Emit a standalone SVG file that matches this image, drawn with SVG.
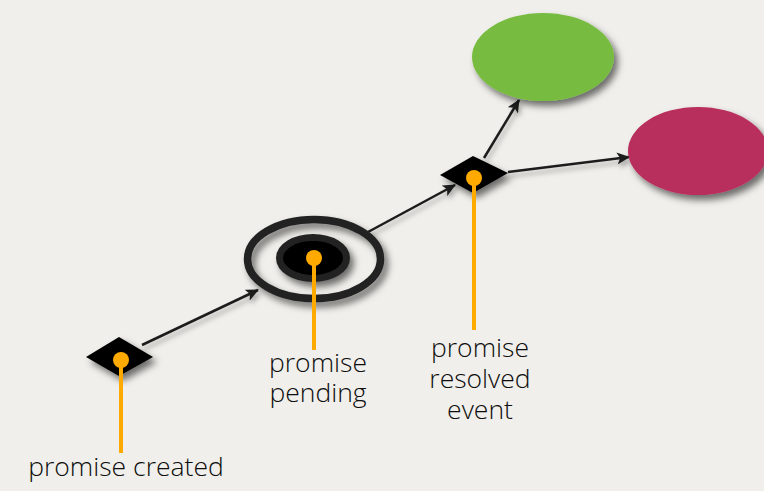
<svg xmlns="http://www.w3.org/2000/svg" width="764" height="491" viewBox="0 0 764 491">
<defs>
<filter id="sh" x="-30%" y="-30%" width="160%" height="160%">
<feDropShadow dx="4" dy="5" stdDeviation="3.5" flood-color="#000" flood-opacity="0.55"/>
</filter>
<filter id="lsh" x="-10%" y="-50%" width="120%" height="200%">
<feDropShadow dx="2" dy="4" stdDeviation="2.5" flood-color="#000" flood-opacity="0.3"/>
</filter>
<marker id="ah" markerWidth="13" markerHeight="12" refX="12" refY="6" orient="auto" markerUnits="userSpaceOnUse" viewBox="0 0 13 12">
<path d="M0,0 L13,6 L0,12 L3,6 Z" fill="#1e1e1e"/>
</marker>
<style>
.lbl{font-family:"Open Sans","Liberation Sans",sans-serif;font-weight:300;font-size:26.5px;fill:#0d0d0d;text-anchor:middle}
.conn{stroke:#1e1e1e;stroke-width:2.5;fill:none;marker-end:url(#ah)}
.pin{stroke:#ffaa00;stroke-width:4;fill:none}
.dot{fill:#ffaa00}
</style>
</defs>
<rect width="764" height="491" fill="#f0efeb"/>
<g id="connectors" filter="url(#lsh)">
<line class="conn" x1="142" y1="345" x2="258" y2="290"/>
<line class="conn" x1="368" y1="232" x2="455" y2="185"/>
<line class="conn" x1="484" y1="158" x2="519" y2="100"/>
<line class="conn" x1="508" y1="172" x2="629" y2="157"/>
</g>
<g id="resolved">
<ellipse cx="543" cy="57" rx="71" ry="44" fill="#77bc41" filter="url(#sh)"/>
</g>
<g id="rejected">
<ellipse cx="698" cy="151" rx="70" ry="44" fill="#b82e5d" filter="url(#sh)"/>
</g>
<g id="created">
<polygon points="86,357 119,337 153,357 119,376" fill="#000" filter="url(#sh)"/>
<line class="pin" x1="121" y1="360" x2="121" y2="453"/>
<circle class="dot" cx="121" cy="360" r="8"/>
<text class="lbl" x="126" y="476">promise created</text>
</g>
<g id="pending">
<g filter="url(#sh)">
<ellipse cx="314" cy="259" rx="66.5" ry="39.5" fill="none" stroke="#222" stroke-width="7.5"/>
<ellipse cx="313" cy="258" rx="33.5" ry="20.5" fill="#000" stroke="#222" stroke-width="7"/>
</g>
<line class="pin" x1="314" y1="258" x2="314" y2="350"/>
<circle class="dot" cx="314" cy="258" r="8"/>
<text class="lbl" x="318" y="372">promise</text>
<text class="lbl" x="318" y="402">pending</text>
</g>
<g id="event">
<polygon points="440,175 473,156 508,173 473,193" fill="#000" filter="url(#sh)"/>
<line class="pin" x1="474" y1="178" x2="474" y2="330"/>
<circle class="dot" cx="474" cy="178" r="8"/>
<text class="lbl" x="480" y="357">promise</text>
<text class="lbl" x="480" y="388">resolved</text>
<text class="lbl" x="480" y="419">event</text>
</g>
</svg>
